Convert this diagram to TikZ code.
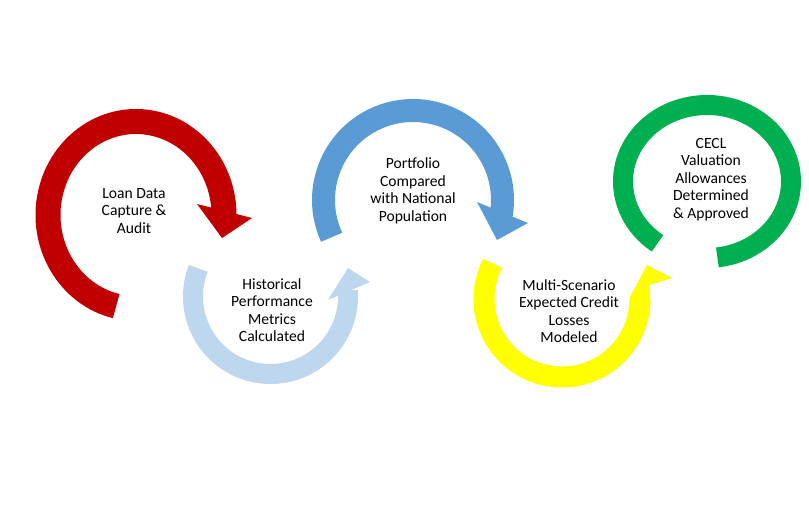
\documentclass[tikz,border=0pt]{standalone}
\usepackage{fontspec}
\setmainfont{Carlito}
\definecolor{cRed}{HTML}{C00000}
\definecolor{cLight}{HTML}{BDD7EE}
\definecolor{cBlue}{HTML}{5B9BD5}
\definecolor{cYellow}{HTML}{FFFF00}
\definecolor{cGreen}{HTML}{00B050}
\begin{document}
\begin{tikzpicture}[x=1pt,y=-1pt,
  ring/.style={line cap=butt},
  lbl/.style={align=center, font=\fontsize{15.6pt}{17.5pt}\selectfont, text=black, inner sep=0pt}]
\path[use as bounding box] (0,0) rectangle (809,516);
% red
\draw[ring, cRed, line width=25pt] (136,215) ++(103:88 and 93.5) arc[start angle=103, end angle=361, x radius=88, y radius=93.5];
\fill[cRed] (197,204) -- (222,238) -- (252,218) -- cycle;
% light blue
\draw[ring, cLight, line width=20pt] (270.5,296.5) ++(201.3:77.5 and 77.5) arc[start angle=201.3, end angle=-4.5, x radius=77.5, y radius=77.5];
\fill[cLight] (328,300) -- (348,268) -- (370,282) -- cycle;
% blue
\draw[ring, cBlue, line width=23pt] (413,200) ++(155.4:89.5 and 89.5) arc[start angle=155.4, end angle=370, x radius=89.5, y radius=89.5];
\fill[cBlue] (477,202) -- (497,240) -- (528,223) -- cycle;
% yellow
\draw[ring, cYellow, line width=21pt] (562,299) ++(207.2:78 and 78) arc[start angle=207.2, end angle=1, x radius=78, y radius=78];
\fill[cYellow] (629.4,302.5) -- (630,297) -- (647,265) -- (672,278) -- (649.5,285) -- (650.4,303.6) -- cycle;
% green
\draw[ring, cGreen, line width=20pt] (707,181.5) ++(126.1:84 and 76.5) arc[start angle=126.1, end angle=442.9, x radius=84, y radius=76.5];
% labels
\node[lbl] (t1) at (134,211) {Loan Data\\Capture \&\\Audit};
\node[lbl] (t2) at (272,310) {Historical\\Performance\\Metrics\\Calculated};
\node[lbl] (t3) at (413,191) {Portfolio\\Compared\\with National\\Population};
\node[lbl] (t4) at (569,311) {Multi-Scenario\\Expected Credit\\Losses\\Modeled};
\node[lbl] (t5) at (711,179.5) {CECL\\Valuation\\Allowances\\Determined\\\& Approved};
\end{tikzpicture}
\end{document}
